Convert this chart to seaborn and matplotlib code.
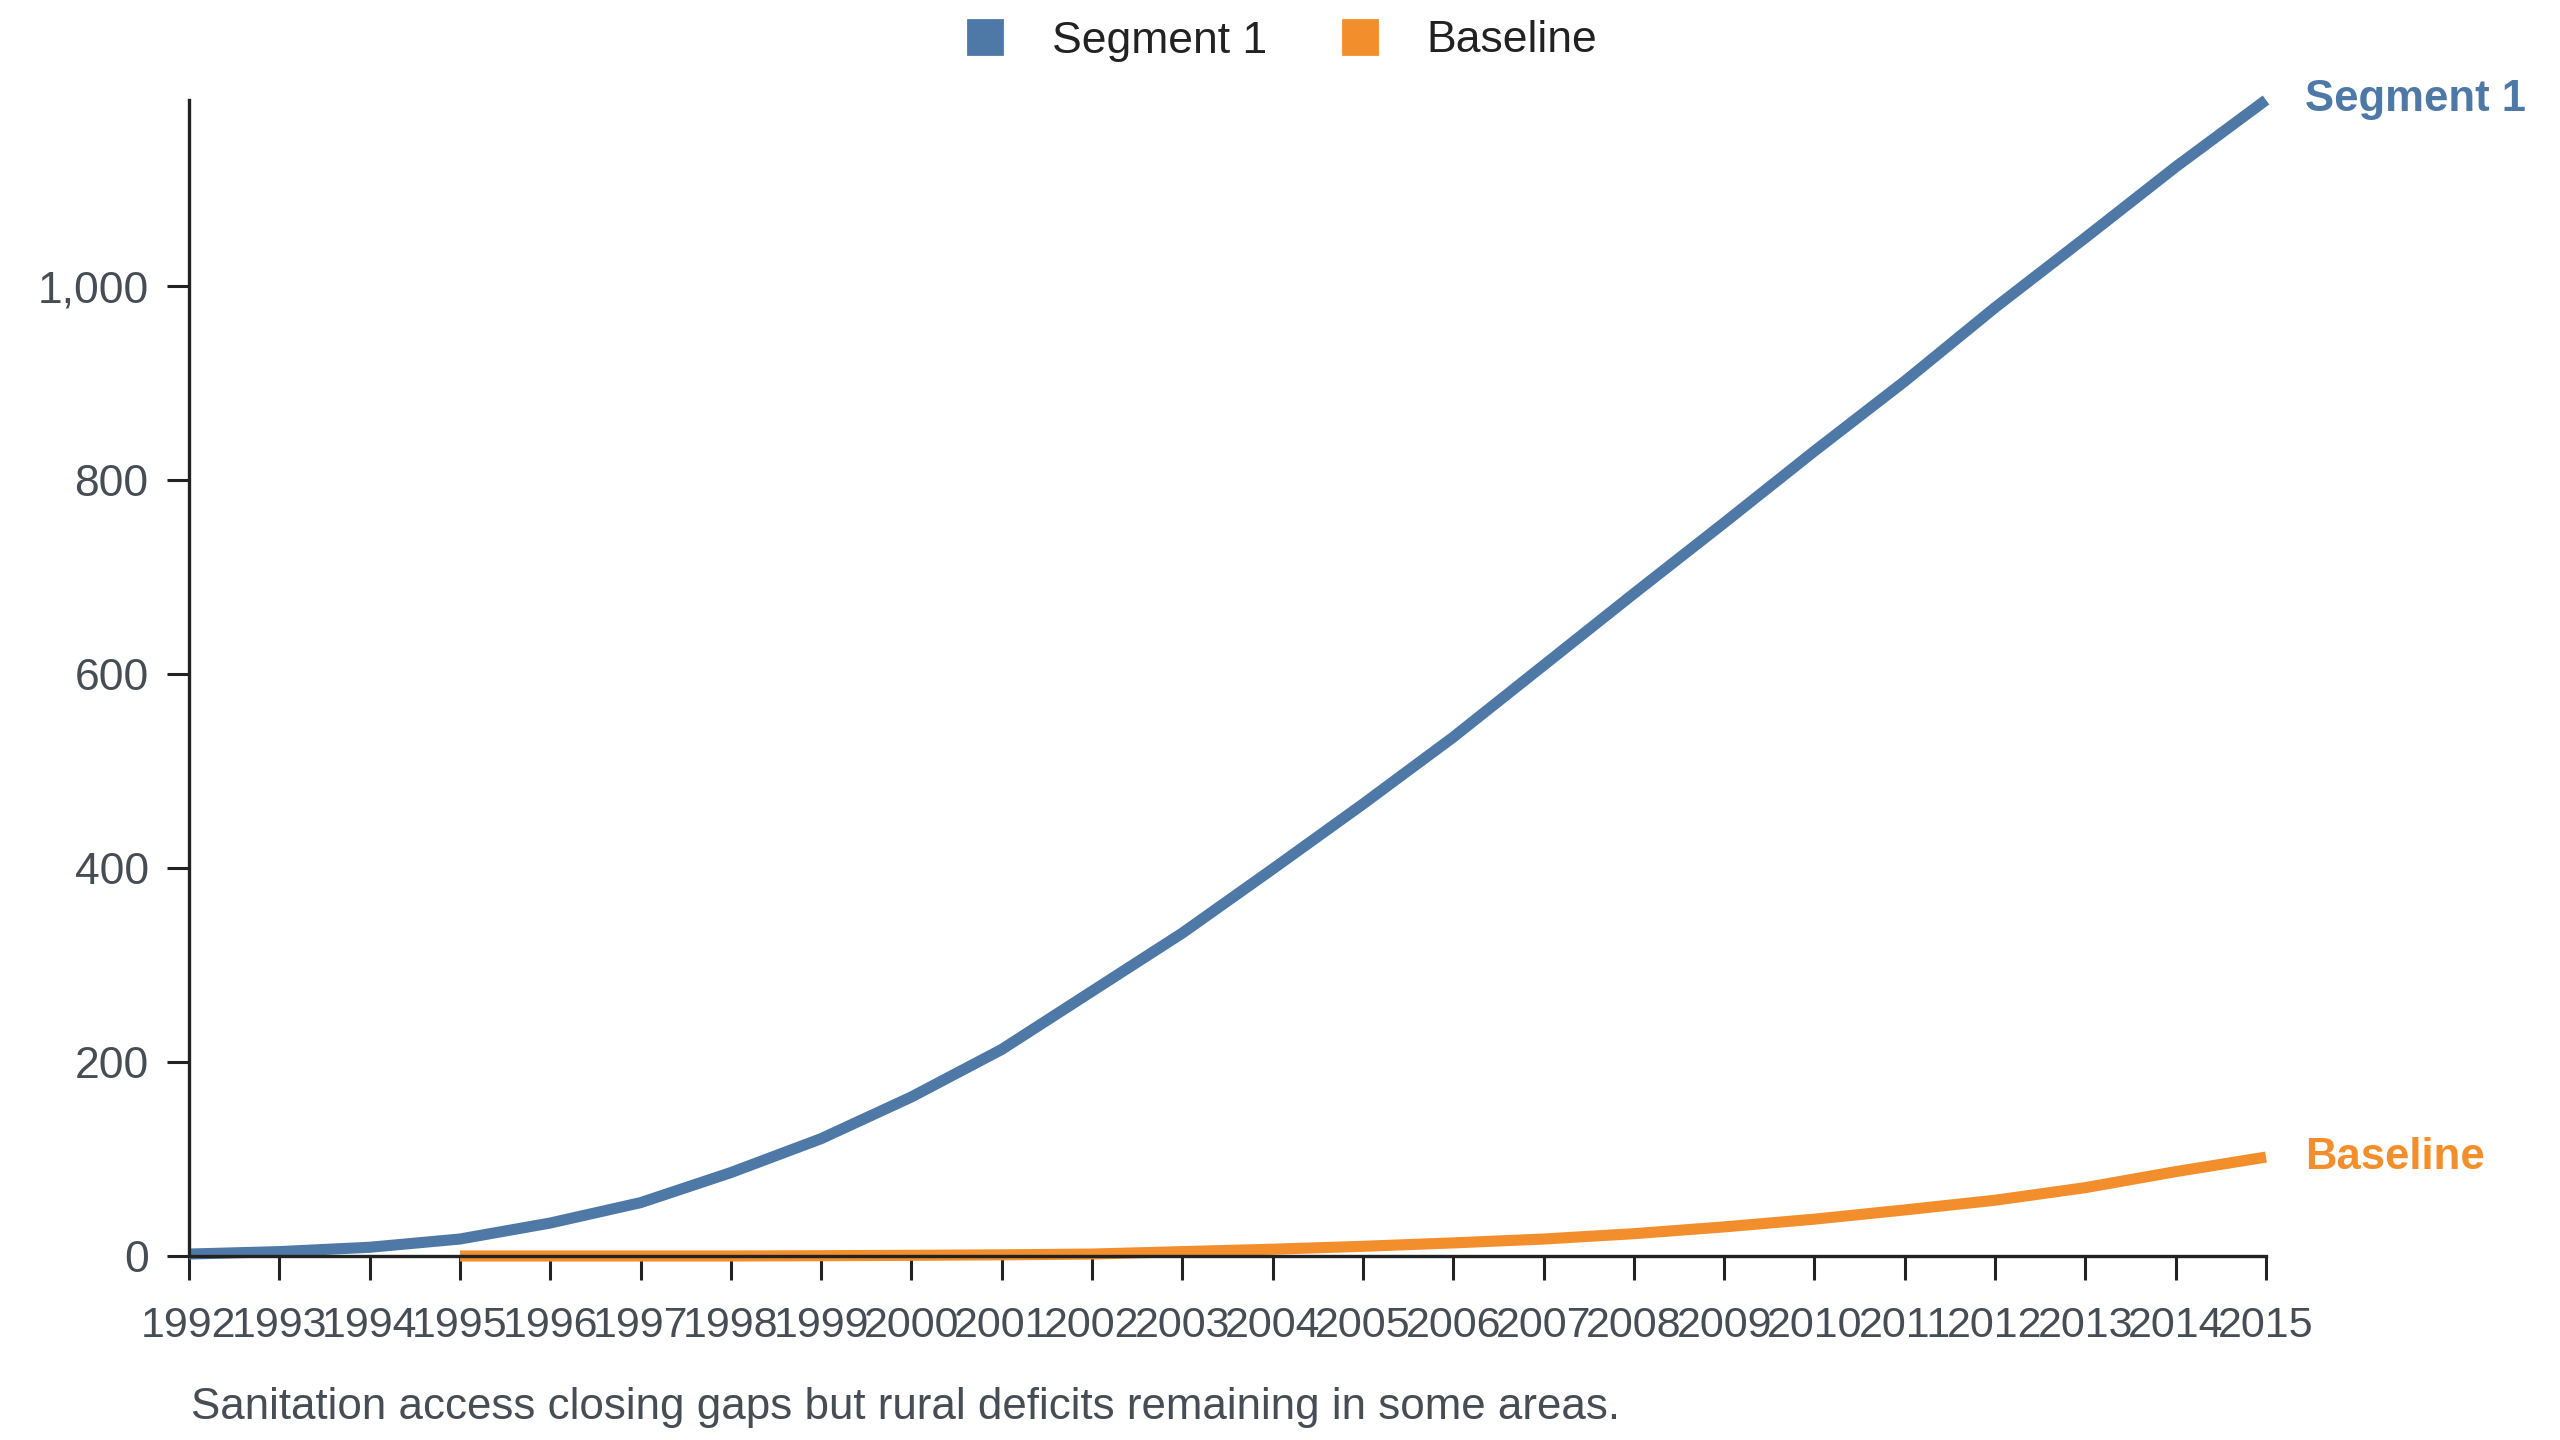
import matplotlib
matplotlib.use("Agg")
import matplotlib.pyplot as plt
from matplotlib.lines import Line2D
from matplotlib.ticker import FuncFormatter
import seaborn as sns
import pandas as pd

years = list(range(1992, 2016))
segment1 = [2, 4.5, 9, 17.5, 34, 55, 86, 121, 164, 213, 273, 333, 399, 466,
            535, 609, 683, 756, 830, 902, 978, 1050, 1123, 1192]
baseline_years = list(range(1995, 2016))
baseline = [0, 0, 0, 0, 0.3, 0.7, 1.2, 2, 4.5, 7, 10, 13.5, 17.5, 23, 30, 38,
            47.5, 57.5, 70.5, 87, 102]
series_names = ["Segment 1", "Baseline"]
colors = {"Segment 1": "#4e79a7", "Baseline": "#f28e2b"}
caption = "Sanitation access closing gaps but rural deficits remaining in some areas."
yticks = [0, 200, 400, 600, 800, 1000]

df = pd.concat([
    pd.DataFrame({"year": years, "value": segment1, "series": "Segment 1"}),
    pd.DataFrame({"year": baseline_years, "value": baseline, "series": "Baseline"}),
], ignore_index=True)

sns.set_theme(style="white")
plt.rcParams["font.family"] = ["Liberation Sans", "DejaVu Sans"]

TEXT = "#474d55"
AXC = "#222222"

fig = plt.figure(figsize=(12.8, 7.2), dpi=200)
ax = fig.add_axes([189 / 2560, 184 / 1440, (2266 - 189) / 2560, (1256 - 100) / 1440])

sns.lineplot(data=df, x="year", y="value", hue="series", hue_order=series_names,
             palette=colors, linewidth=4, legend=False, ax=ax)
for ln in ax.lines:
    ln.set_clip_on(False)
    ln.set_solid_capstyle("butt")

ax.set_xlim(1992, 2015)
ax.set_ylim(0, max(segment1))
ax.set_xticks(years)
ax.set_xticklabels([str(y) for y in years])
ax.set_yticks(yticks)
ax.yaxis.set_major_formatter(FuncFormatter(lambda v, p: f"{int(v):,}"))
ax.set_xlabel("")
ax.set_ylabel("")

for s in ["top", "right"]:
    ax.spines[s].set_visible(False)
for s in ["left", "bottom"]:
    ax.spines[s].set_color(AXC)
    ax.spines[s].set_linewidth(1.2)

ax.tick_params(axis="x", direction="out", length=8.5, width=1.1, color=AXC,
               labelsize=15.5, labelcolor=TEXT, pad=9.5, bottom=True)
ax.tick_params(axis="y", direction="out", length=8, width=1.1, color=AXC,
               labelsize=16, labelcolor=TEXT, pad=6.5, left=True)

# End labels
ax.annotate("Segment 1", xy=(years[-1], segment1[-1]), xytext=(14, 0),
            textcoords="offset points", color=colors["Segment 1"], fontsize=15.7,
            fontweight="bold", va="center", ha="left", annotation_clip=False)
ax.annotate("Baseline", xy=(baseline_years[-1], baseline[-1]), xytext=(14, 0),
            textcoords="offset points", color=colors["Baseline"], fontsize=15.7,
            fontweight="bold", va="center", ha="left", annotation_clip=False)

# Legend
handles = [Line2D([], [], marker="s", linestyle="", markersize=12,
                  markerfacecolor=colors[n], markeredgecolor=colors[n], label=n)
           for n in series_names]
fig.legend(handles=handles, loc="center", bbox_to_anchor=(0.5, 1 - 41 / 1440),
           ncol=2, frameon=False, fontsize=16, handlelength=1.0,
           handletextpad=1.0, columnspacing=1.6, labelcolor="#222222")

fig.text(191 / 2560, 1 - 1407 / 1440, caption, fontsize=15.8, color=TEXT,
         ha="left", va="center")

fig.savefig("out.png", dpi=200, facecolor="white")
